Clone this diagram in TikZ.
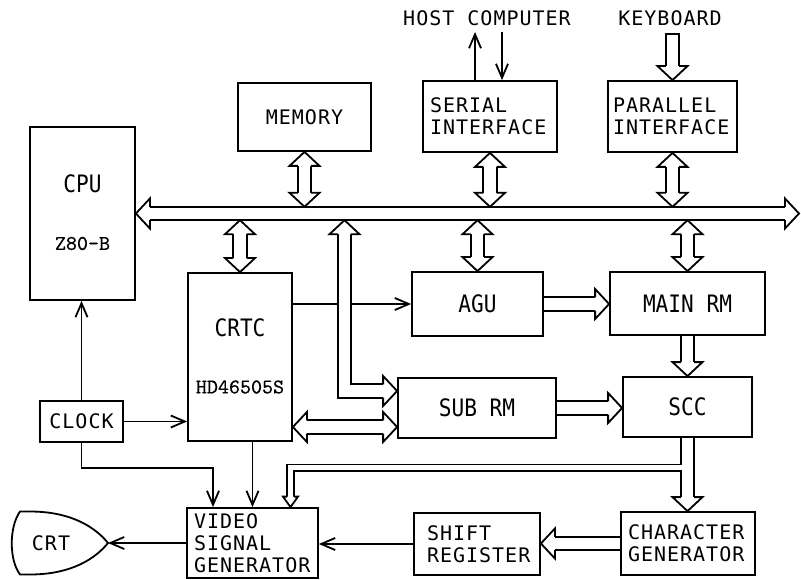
\documentclass[tikz,border=0pt]{standalone}
\usepackage{fontspec}
\newfontfamily\labelfont[LetterSpace=5]{DejaVu Sans Mono}
\newfontfamily\bigfont[FakeStretch=0.88]{DejaVu Sans Mono}
\newfontfamily\partfont[FakeBold=0.5]{lmmono10-regular.otf}
\usetikzlibrary{arrows.meta,calc,backgrounds}

% hollow arrow head: tip, direction, extra options
\newcommand{\hhead}[3][]{%
  \filldraw[fill=white, line width=1.8pt, line join=miter, shift={#2}, rotate=#3, #1]
    (-14pt,6.7pt) -- (-14pt,15pt) -- (0pt,0pt) -- (-14pt,-15pt) -- (-14pt,-6.7pt);}

\begin{document}
\begin{tikzpicture}[x=1pt, y=-1pt,
    box/.style={draw, line width=1.8pt, inner sep=0pt, font=\labelfont\fontsize{20}{22}\selectfont},
    bigbox/.style={box, font=\bigfont\fontsize{24}{26}\selectfont},
    txtbox/.style={box, align=left},
    bigtxt/.style={inner sep=0pt, font=\bigfont\fontsize{24}{26}\selectfont},
    parttxt/.style={inner sep=0pt, font=\partfont\fontsize{21}{24}\selectfont},
    plaintxt/.style={inner sep=0pt, font=\labelfont\fontsize{20}{22}\selectfont},
    thinarr/.style={line width=1.8pt, -{Straight Barb[length=14pt,width=12pt]}},
    thinline/.style={line width=1.8pt},
    hollow/.style={double, double distance=11.6pt, line width=1.8pt, line join=miter}
]
\useasboundingbox (0,0) rectangle (801,580);

% Processor and controller
\node[bigbox, minimum width=105pt, minimum height=173pt] (cpu) at (82.5,213.5) {};
\node[bigtxt] (cpulbl) at ([yshift=30pt]cpu.center) {CPU};
\node[parttxt] (cpupart) at ([yshift=-30pt]cpu.center) {Z80-B};

\node[bigbox, minimum width=104pt, minimum height=168pt] (crtc) at (240,357) {};
\node[bigtxt] (crtclbl) at ([yshift=29pt]crtc.center) {CRTC};
\node[parttxt] (crtcpart) at ([yshift=-30pt]crtc.center) {HD46505S};

\node[box, minimum width=83pt, minimum height=41pt] (clock) at (81.5,421.5) {CLOCK};

% Upper devices
\node[box, minimum width=133pt, minimum height=68pt] (memory) at (304.5,117) {MEMORY};
\node[txtbox, text width=120pt, inner xsep=7pt, minimum height=71pt] (serial) at (490,116.5) {SERIAL\\INTERFACE};
\node[txtbox, text width=119pt, inner xsep=5pt, minimum height=71pt] (parallel) at (672.5,116.5) {PARALLEL\\INTERFACE};
\node[plaintxt] (host) at (487,18) {HOST COMPUTER};
\node[plaintxt] (kbd) at (670,18) {KEYBOARD};

% Refresh memories
\node[bigbox, minimum width=131pt, minimum height=64pt] (agu) at (477.5,304) {AGU};
\node[bigbox, minimum width=155pt, minimum height=63pt] (mainrm) at (687.5,303.5) {MAIN RM};
\node[bigbox, minimum width=158pt, minimum height=60pt] (subrm) at (477,408) {SUB RM};
\node[bigbox, minimum width=129pt, minimum height=60pt] (scc) at (687.5,407) {SCC};

% Video path
\node[txtbox, text width=117pt, inner xsep=7pt, minimum height=70pt] (vsg) at (252.5,543) {VIDEO\\SIGNAL\\GENERATOR};
\node[txtbox, text width=100pt, inner xsep=13pt, minimum height=62pt] (shiftreg) at (477,544) {SHIFT\\REGISTER};
\node[txtbox, text width=120pt, inner xsep=7pt, minimum height=63pt] (chargen) at (688,543.5) {CHARACTER\\GENERATOR};

% CRT
\draw[thinline] (20,511.5) -- (30,511.5) .. controls (72,511.5) and (96,528) .. (108,543)
  .. controls (96,558) and (72,574.5) .. (30,574.5) -- (20,574.5)
  .. controls (9,560) and (9,527) .. (20,511.5) -- cycle;
\node[plaintxt] (crt) at (51,543) {CRT};
\coordinate (crttip) at (108,543);

\coordinate (busR) at (799,213.5);
\coordinate (bustop) at (0,206.8);
\coordinate (busbot) at (0,220.2);
\coordinate (hostout) at (475,32);
\coordinate (hostin) at (502,32);
\coordinate (tap) at (344.5,220.2);
\coordinate (split) at ([yshift=-30pt]scc.south);
\coordinate (vsgin) at ([xshift=38pt]vsg.north);

\begin{scope}[on background layer]
% Single lines
\draw[thinarr] ([xshift=-15pt]serial.north) -- (hostout);
\draw[thinarr] (hostin) -- ([xshift=12pt]serial.north);
\draw[thinarr] (clock.north) -- (clock.north |- cpu.south);
\draw[thinarr] (clock.east) -- (clock.east -| crtc.west);
\draw[thinarr] (clock.south) -- ++(0,25) -| ([xshift=-39.5pt]vsg.north);
\draw[thinarr] (crtc.south -| vsg.north) -- (vsg.north);
\draw[thinarr] (crtc.east |- agu.west) -- (agu.west);
\draw[thinarr] (shiftreg.west) -- (shiftreg.west -| vsg.east);
\draw[thinarr] (vsg.west) -- (crttip);

% System bus
\draw[hollow, shorten <=12pt, shorten >=12pt] (cpu.east) -- (busR);
\hhead{(cpu.east)}{180}
\hhead{(busR)}{0}

% Bus taps
\draw[hollow, shorten <=12pt, shorten >=12pt] (memory.south) -- (memory.south |- bustop);
\hhead{(memory.south)}{90}
\hhead{(memory.south |- bustop)}{270}
\draw[hollow, shorten <=12pt, shorten >=12pt] (serial.south) -- (serial.south |- bustop);
\hhead{(serial.south)}{90}
\hhead{(serial.south |- bustop)}{270}
\draw[hollow, shorten <=12pt, shorten >=12pt] (parallel.south) -- (parallel.south |- bustop);
\hhead{(parallel.south)}{90}
\hhead{(parallel.south |- bustop)}{270}
\draw[hollow, shorten <=12pt, shorten >=12pt] (crtc.north |- busbot) -- (crtc.north);
\hhead{(crtc.north |- busbot)}{90}
\hhead{(crtc.north)}{270}
\draw[hollow, shorten <=12pt, shorten >=12pt] (agu.north |- busbot) -- (agu.north);
\hhead{(agu.north |- busbot)}{90}
\hhead{(agu.north)}{270}
\draw[hollow, shorten <=12pt, shorten >=12pt] (mainrm.north |- busbot) -- (mainrm.north);
\hhead{(mainrm.north |- busbot)}{90}
\hhead{(mainrm.north)}{270}
\draw[hollow, shorten <=12pt, shorten >=12pt] (tap) |- ([yshift=17pt]subrm.west);
\hhead{(tap)}{90}
\hhead{([yshift=17pt]subrm.west)}{0}

% Keyboard input
\draw[hollow, shorten >=12pt] ([yshift=-8pt]kbd.south -| parallel.north) -- (parallel.north);
\draw[thinline] ([yshift=-8pt,xshift=-7.6pt]kbd.south -| parallel.north) -- ([yshift=-8pt,xshift=7.6pt]kbd.south -| parallel.north);
\hhead{(parallel.north)}{270}

% Data paths
\draw[hollow, shorten <=12pt, shorten >=12pt] ([yshift=-70pt]crtc.east) -- ([yshift=-70pt]crtc.east -| subrm.west);
\hhead{([yshift=-70pt]crtc.east)}{180}
\hhead{([yshift=-70pt]crtc.east -| subrm.west)}{0}
\draw[hollow, shorten >=12pt] (agu.east) -- (agu.east -| mainrm.west);
\hhead{(agu.east -| mainrm.west)}{0}
\draw[hollow, shorten >=12pt] (mainrm.south) -- (mainrm.south |- scc.north);
\hhead{(mainrm.south |- scc.north)}{270}
\draw[hollow, shorten >=12pt] (subrm.east) -- (subrm.east -| scc.west);
\hhead{(subrm.east -| scc.west)}{0}
\draw[hollow, shorten >=12pt] (chargen.west) -- (chargen.west -| shiftreg.east);
\hhead{(chargen.west -| shiftreg.east)}{180}

% SCC output, split to video and character generator
\draw[line width=15.2pt, shorten >=12pt] (scc.south) -- (scc.south |- chargen.north);
\draw[line width=8.5pt, line join=miter, shorten >=9pt] (split) -| (vsgin);
\draw[white, line width=11.6pt, shorten >=12pt] (scc.south) -- (scc.south |- chargen.north);
\draw[white, line width=4.9pt, line join=miter, shorten >=9pt] (split) -| (vsgin);
\hhead{(scc.south |- chargen.north)}{270}
\hhead[xscale=0.75, yscale=0.5]{(vsgin)}{270}
\end{scope}

\end{tikzpicture}
\end{document}
